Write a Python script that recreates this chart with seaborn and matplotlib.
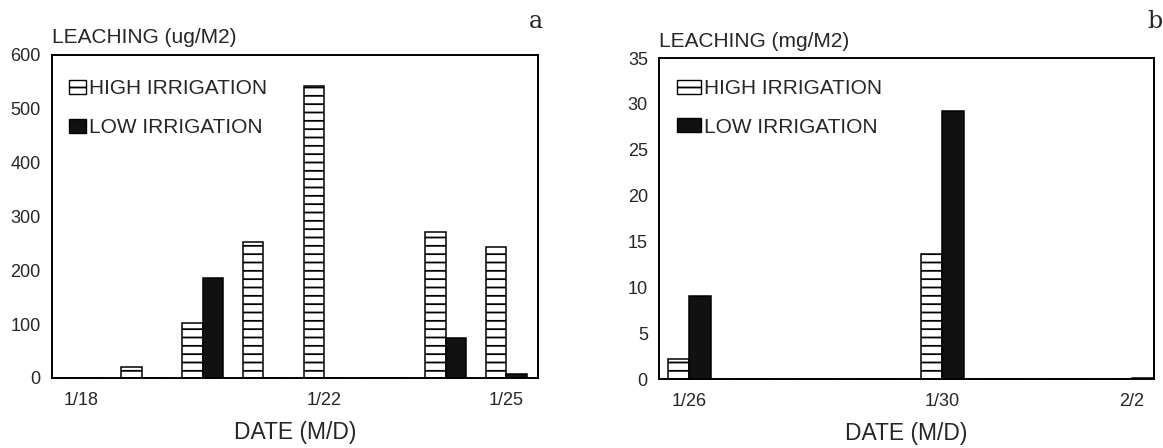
import numpy as np
import pandas as pd
import seaborn as sns
import matplotlib.pyplot as plt
from matplotlib.patches import Patch

# data
dates_a = ['1/18', '1/19', '1/20', '1/21', '1/22', '1/23', '1/24', '1/25']
high_a = [0, 20, 102, 252, 542, 0, 272, 243]
low_a = [0, 0, 185, 0, 0, 0, 75, 8]
labels_a = ['1/18', '', '', '', '1/22', '', '', '1/25']

dates_b = ['1/26', '1/27', '1/28', '1/29', '1/30', '1/31', '2/1', '2/2']
high_b = [2.2, 0, 0, 0, 13.6, 0, 0, 0.05]
low_b = [9.0, 0, 0, 0, 29.2, 0, 0, 0.1]
labels_b = ['1/26', '', '', '', '1/30', '', '', '2/2']

groups = ['HIGH IRRIGATION', 'LOW IRRIGATION']

sns.set_style('white')
plt.rcParams['font.family'] = ['Liberation Sans', 'DejaVu Sans']
plt.rcParams['hatch.linewidth'] = 1.3
plt.rcParams['hatch.color'] = 'black'

fig = plt.figure(figsize=(11.63, 4.48), dpi=100)
ax_a = fig.add_axes([0.0447, 0.1563, 0.4179, 0.7210])
ax_b = fig.add_axes([0.5666, 0.1540, 0.4256, 0.7165])

pal = {'HIGH IRRIGATION': 'white', 'LOW IRRIGATION': '#111111'}


def draw(ax, dates, high, low, ticklabels, ymax, ystep, unit, xright, leg_top, hl):
    df = pd.DataFrame({
        'date': dates * 2,
        'value': high + low,
        'irrigation': [groups[0]] * len(dates) + [groups[1]] * len(dates),
    })
    sns.barplot(data=df, x='date', y='value', hue='irrigation', order=dates,
                hue_order=groups, palette=pal, edgecolor='black', linewidth=1.1,
                width=0.68, saturation=1, legend=False, ax=ax)
    for bar in ax.containers[0]:
        bar.set_hatch('--')
    ax.set_xlim(-0.48, xright)
    ax.set_ylim(0, ymax)
    ax.set_yticks(np.arange(0, ymax + ystep / 2, ystep))
    ax.set_xticks(range(len(dates)))
    ax.set_xticklabels(ticklabels)
    ax.tick_params(axis='x', direction='in', length=6, width=1, pad=10, labelsize=13)
    ax.tick_params(axis='y', direction='in', length=6, width=1, pad=8, labelsize=13)
    for s in ax.spines.values():
        s.set_visible(True)
        s.set_color('black')
        s.set_linewidth(1.4)
    ax.set_ylabel('')
    ax.set_xlabel('DATE (M/D)', fontsize=16.5, labelpad=9)
    ax.text(0.0, 1.053, unit, transform=ax.transAxes, ha='left', va='center', fontsize=15)
    handles = [Patch(facecolor='white', edgecolor='black', hatch='--', linewidth=1),
               Patch(facecolor='#111111', edgecolor='black', linewidth=1)]
    ax.legend(handles, groups, loc='upper left', bbox_to_anchor=(0.036, leg_top),
              frameon=False, fontsize=15, borderpad=0, borderaxespad=0,
              handlelength=hl, handleheight=0.65, handletextpad=0.15, labelspacing=0.95)


draw(ax_a, dates_a, high_a, low_a, labels_a, 600, 100, 'LEACHING (ug/M2)', 7.52, 0.925, 0.8)
draw(ax_b, dates_b, high_b, low_b, labels_b, 35, 5, 'LEACHING (mg/M2)', 7.35, 0.935, 1.15)

fig.text(536 / 1163, 0.951, 'a', family=['DejaVu Serif'], fontsize=17, ha='center', va='center')
fig.text(1155 / 1163, 0.951, 'b', family=['DejaVu Serif'], fontsize=17, ha='center', va='center')

fig.savefig('out.png', dpi=100)
